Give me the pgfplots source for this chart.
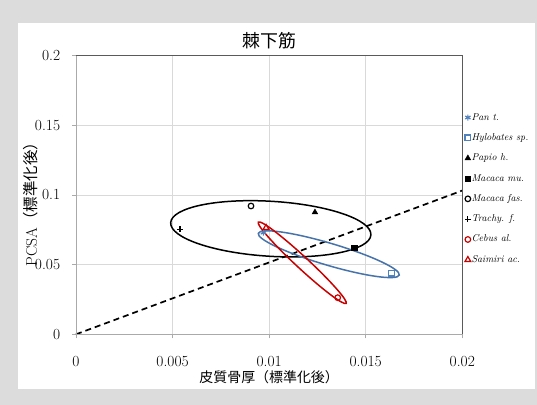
\documentclass[border=0pt]{standalone}
\usepackage{fontspec}
\setmainfont{Latin Modern Roman}
\newfontfamily\cjk{Noto Sans CJK JP}
\usepackage{pgfplots}
\pgfplotsset{compat=1.18}
\definecolor{bgray}{RGB}{220,220,220}
\definecolor{xlblue}{RGB}{79,129,189}
\definecolor{ellblue}{RGB}{70,115,170}
\definecolor{xlred}{RGB}{200,0,0}
\definecolor{gridgray}{RGB}{217,217,217}
\definecolor{framedark}{RGB}{90,90,90}
\definecolor{framelight}{RGB}{170,170,170}
\begin{document}
\begin{tikzpicture}
\useasboundingbox (0,0) rectangle (537bp,405bp);
\fill[bgray] (0,0) rectangle (537bp,405bp);
\fill[white] (18.3bp,16bp) rectangle (535bp,381.7bp);
\begin{axis}[
  at={(76bp,70.7bp)}, anchor=south west,
  scale only axis, width=386.3bp, height=278.6bp,
  xmin=0, xmax=0.02, ymin=0, ymax=0.2,
  clip=false,
  xtick={0,0.005,0.01,0.015,0.02},
  xticklabels={0,0.005,0.01,0.015,0.02},
  ytick={0,0.05,0.1,0.15,0.2},
  yticklabels={0,0.05,0.1,0.15,0.2},
  scaled ticks=false,
  tick pos=left, tick align=outside, major tick length=4bp,
  tick style={color=framelight, line width=0.8bp},
  axis line style={draw=none},
  grid=major, major grid style={gridgray, line width=0.8bp},
  xticklabel style={anchor=center, inner sep=0pt, yshift=-23bp, font=\fontsize{15.5}{18}\selectfont},
  yticklabel style={anchor=east, inner sep=0pt, xshift=-11.7bp, font=\fontsize{15.5}{18}\selectfont},
  title={\cjk 棘下筋},
  title style={at={(0.5,1.034)}, anchor=center, inner sep=0pt, font=\fontsize{18}{20}\selectfont},
  xlabel={\cjk 皮質骨厚（標準化後）},
  xlabel style={at={(0.5,-0.1522)}, anchor=center, inner sep=0pt, font=\fontsize{14}{16}\selectfont},
  ylabel={PCSA{\cjk （標準化後）}},
  ylabel style={at={(-0.1165,0.48)}, anchor=center, inner sep=0pt, font=\fontsize{15.5}{17}\selectfont},
  legend image code/.code={\draw[mark repeat=2,mark phase=2,#1] plot coordinates {(0bp,0bp)(3.5bp,0bp)(7bp,0bp)};},
  legend style={at={(1.0065,0.795)}, anchor=north west, draw=none, fill=none, inner sep=0pt,
    row sep=11.33bp, column sep=0.8bp, font=\fontsize{10}{11}\selectfont\itshape,
    nodes={inner sep=0pt, text height=7bp, text depth=2bp}},
  legend cell align=left,
]
\addplot[forget plot, black, line width=1.7bp, dash pattern=on 6bp off 4bp] coordinates {(0,0) (0.02,0.1032)};

\draw[black, line width=1.5bp, rotate around={-3.5:(axis cs:0.010085,0.07574)}] (axis cs:0.010085,0.07574) ellipse [x radius=0.005193, y radius=0.01974];
\draw[ellblue, line width=1.5bp, rotate around={-16.5:(axis cs:0.013087,0.0575)}] (axis cs:0.013087,0.0575) ellipse [x radius=0.003805, y radius=0.0079];
\draw[xlred, line width=1.5bp, rotate around={-42.8:(axis cs:0.011711,0.0514)}] (axis cs:0.011711,0.0514) ellipse [x radius=0.003096, y radius=0.004307];

\addplot[only marks, mark=asterisk, color=xlblue, mark size=3bp, line width=1.2bp] coordinates {(0.0097,0.073)};
\addlegendentry{Pan t.}
\addplot[only marks, mark=square, color=xlblue, mark size=2.8bp, line width=1.2bp] coordinates {(0.01634,0.0438)};
\addlegendentry{Hylobates sp.}
\addplot[only marks, mark=triangle*, color=black, mark size=3.3bp] coordinates {(0.01237,0.0876)};
\addlegendentry{Papio h.}
\addplot[only marks, mark=square*, color=black, mark size=2.8bp] coordinates {(0.01441,0.0622)};
\addlegendentry{Macaca mu.}
\addplot[only marks, mark=o, color=black, mark size=2.8bp, line width=1.2bp] coordinates {(0.00906,0.0921)};
\addlegendentry{Macaca fas.}
\addplot[only marks, mark=+, color=black, mark size=2.8bp, line width=1.2bp] coordinates {(0.00538,0.0754)};
\addlegendentry{Trachy. f.}
\addplot[only marks, mark=o, color=xlred, mark size=2.8bp, line width=1.2bp] coordinates {(0.01355,0.0263)};
\addlegendentry{Cebus al.}
\addplot[only marks, mark=triangle, color=xlred, mark size=3.3bp, line width=1.2bp] coordinates {(0.00984,0.0765)};
\addlegendentry{Saimiri ac.}

\draw[framelight, line width=1bp] (rel axis cs:0,1) -- (rel axis cs:0,0) -- (rel axis cs:1,0);
\draw[framedark, line width=1bp] (rel axis cs:0,1) -- (rel axis cs:1,1) -- (rel axis cs:1,0);
\end{axis}
\end{tikzpicture}
\end{document}
